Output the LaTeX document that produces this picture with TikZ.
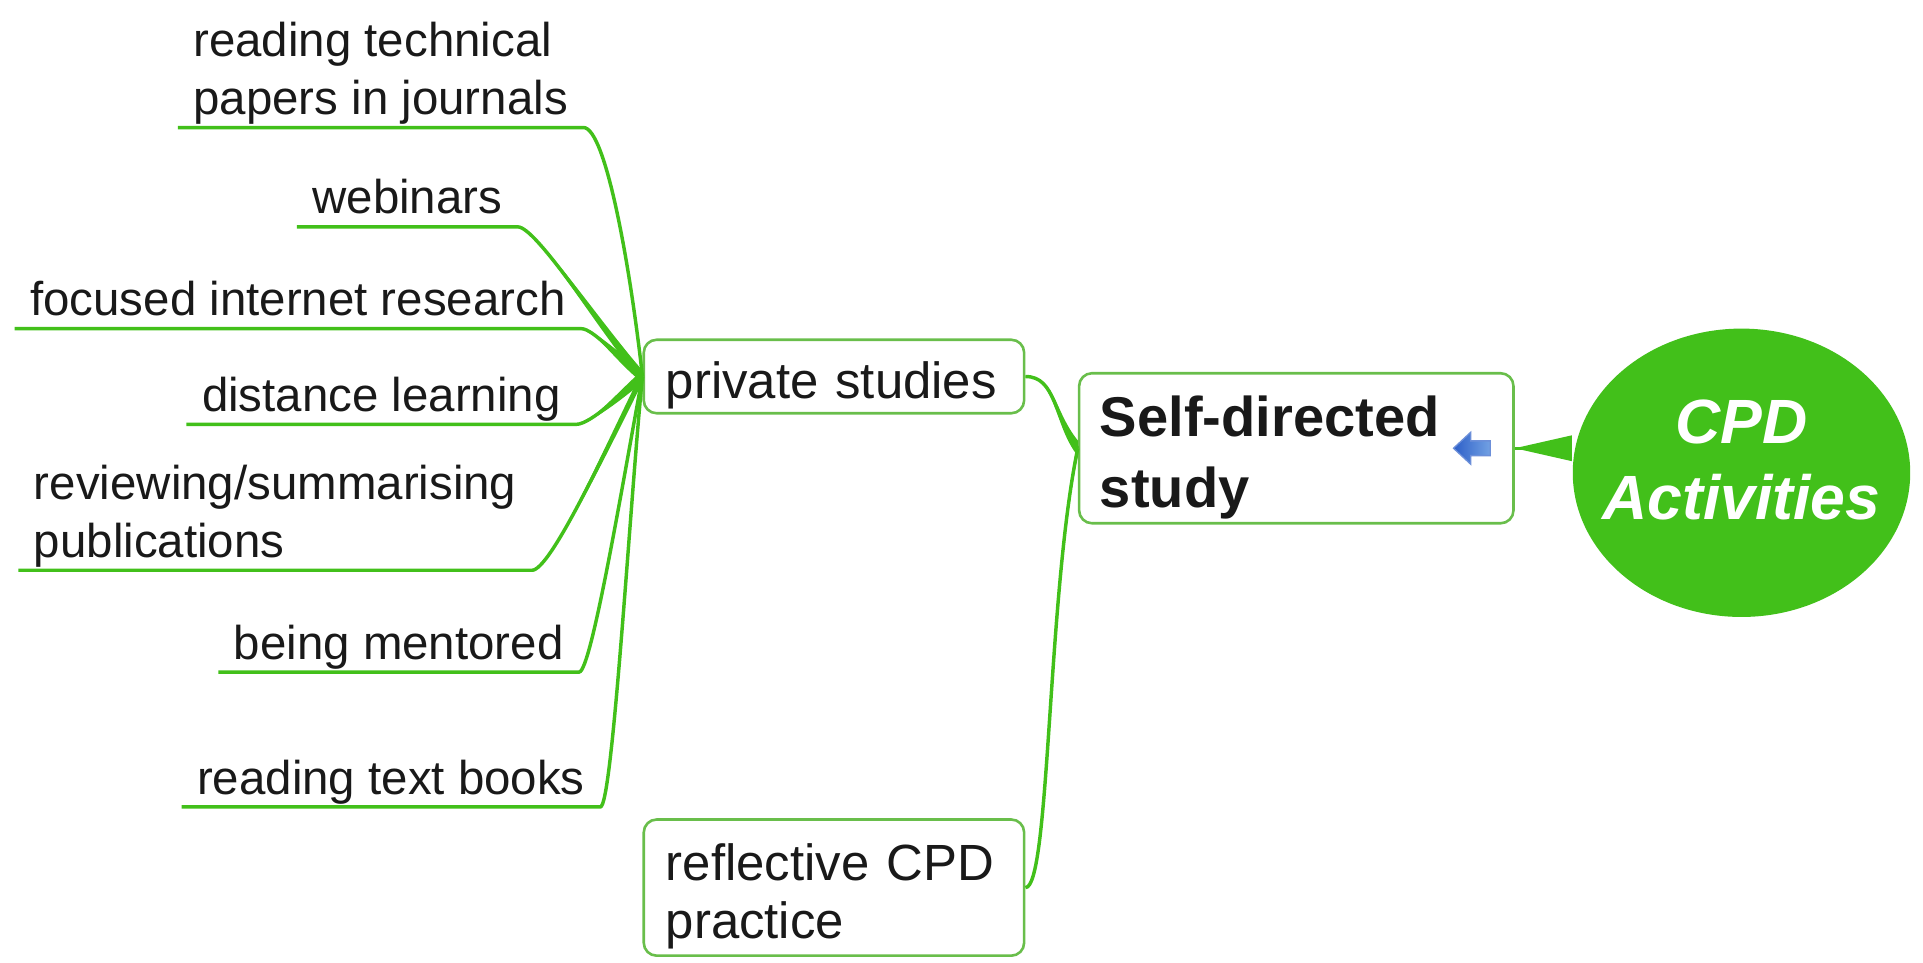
\documentclass[tikz,border=0pt]{standalone}
\usepackage{fontspec}
\setmainfont{Liberation Sans}
\usetikzlibrary{shapes.geometric, positioning}

\definecolor{mapgreen}{RGB}{66,192,26}
\definecolor{boxgreen}{RGB}{105,190,75}
\definecolor{iconblue}{RGB}{45,95,200}
\definecolor{iconlight}{RGB}{160,205,245}

\begin{document}
\begin{tikzpicture}[x=0.01cm, y=-0.01cm, on grid,
    every node/.style = {text=black!90, font=\fontsize{11}{13.4}\selectfont},
    leaf/.style   = {anchor=south west, align=left, inner xsep=0.12cm, inner ysep=1pt,
                     text depth=1.8pt},
    topic/.style  = {draw=boxgreen, line width=0.6pt, rounded corners=3pt, fill=white,
                     text width=2.74cm, align=left, inner xsep=0.18cm, inner ysep=1pt,
                     minimum width=3.1cm, font=\fontsize{11.8}{13.6}\selectfont,
                     execute at begin node=\rule{0pt}{12.6pt}},
    branch/.style = {draw=mapgreen, line width=0.8pt},
    taper/.style  = {fill=mapgreen}]
  \useasboundingbox (0,0) rectangle (1568,785);

  \node[ellipse, fill=mapgreen, minimum width=2.75cm, minimum height=2.35cm, inner sep=0pt,
        align=center, text=white, font=\fontsize{14.5}{17.6}\selectfont\bfseries\itshape]
        (cpd) at (1420,385.5) {\makebox[0pt]{CPD}\\\makebox[0pt]{Activities\rule[-6pt]{0pt}{0pt}}};
  \node[topic, text width=3.2cm, minimum width=3.54cm, minimum height=1.17cm, inner xsep=0.17cm,
        font=\fontsize{13}{16.5}\selectfont\bfseries, execute at begin node=\rule{0pt}{13.6pt}]
        (sd) at (1057,365.5) {Self-directed\\study};
  \node[topic, minimum height=0.58cm] (ps) at (680,307) {private studies};
  \node[topic, minimum height=1.11cm] (rc) [below=4.165cm of ps] {reflective CPD\\practice};

  \node[leaf] (l1) at (145,104) {reading technical\\papers in journals};
  \node[leaf] (l2) at (242,185) {webinars};
  \node[leaf] (l3) at (12,268)  {focused internet research};
  \node[leaf] (l4) at (152,346) {distance learning};
  \node[leaf] (l5) at (15,465)  {reviewing/summarising\\publications};
  \node[leaf] (l6) at (178,548) {being mentored};
  \node[leaf] (l7) at (148,658) {reading text books};

  % blue icon in the main topic
  \path[left color=iconblue, right color=iconlight, draw=iconblue!70, line width=0.3pt]
    (sd.east) ++(-50,0) -- ++(14,-13) -- ++(0,7) -- ++(16,0) -- ++(0,12)
    -- ++(-16,0) -- ++(0,7) -- cycle;

  % centre to main topic
  \fill[taper] (sd.east) -- ([yshift=3pt]cpd.west |- sd.east)
    -- ([yshift=-3pt]cpd.west |- sd.east) -- cycle;
  \draw[branch] (sd.east) -- (cpd.west |- sd.east);

  % main topic to sub topics
  \draw[branch] (ps.east) .. controls +(25,0) and +(-20,-25) .. (sd.west);
  \fill[taper] (ps.east) .. controls +(25,0) and +(-20,-25) .. ([yshift=1.8pt]sd.west)
    -- ([yshift=-1.8pt]sd.west) .. controls +(-20,-25) and +(25,0) .. (ps.east);
  \draw[branch] (rc.east) .. controls +(20,0) and +(-25,120) .. (sd.west);
  \fill[taper] (rc.east) .. controls +(20,0) and +(-25,120) .. ([yshift=1.8pt]sd.west)
    -- ([yshift=-1.8pt]sd.west) .. controls +(-25,120) and +(20,0) .. (rc.east);

  % leaves to private studies
  \foreach \leaf/\ax/\bx/\by in {l1/18/-10/-90, l2/15/-35/-40, l3/10/-20/-15,
      l4/12/-15/12, l5/15/-30/60, l6/10/-15/80, l7/10/-10/100} {
    \draw[branch] (\leaf.south west) -- (\leaf.south east)
      .. controls +(\ax,0) and +(\bx,\by) .. (ps.west);
    \fill[taper] (\leaf.south east) .. controls +(\ax,0) and +(\bx,\by) .. ([yshift=1.4pt]ps.west)
      -- ([yshift=-1.4pt]ps.west) .. controls +(\bx,\by) and +(\ax,0) .. (\leaf.south east);
  }
\end{tikzpicture}
\end{document}
